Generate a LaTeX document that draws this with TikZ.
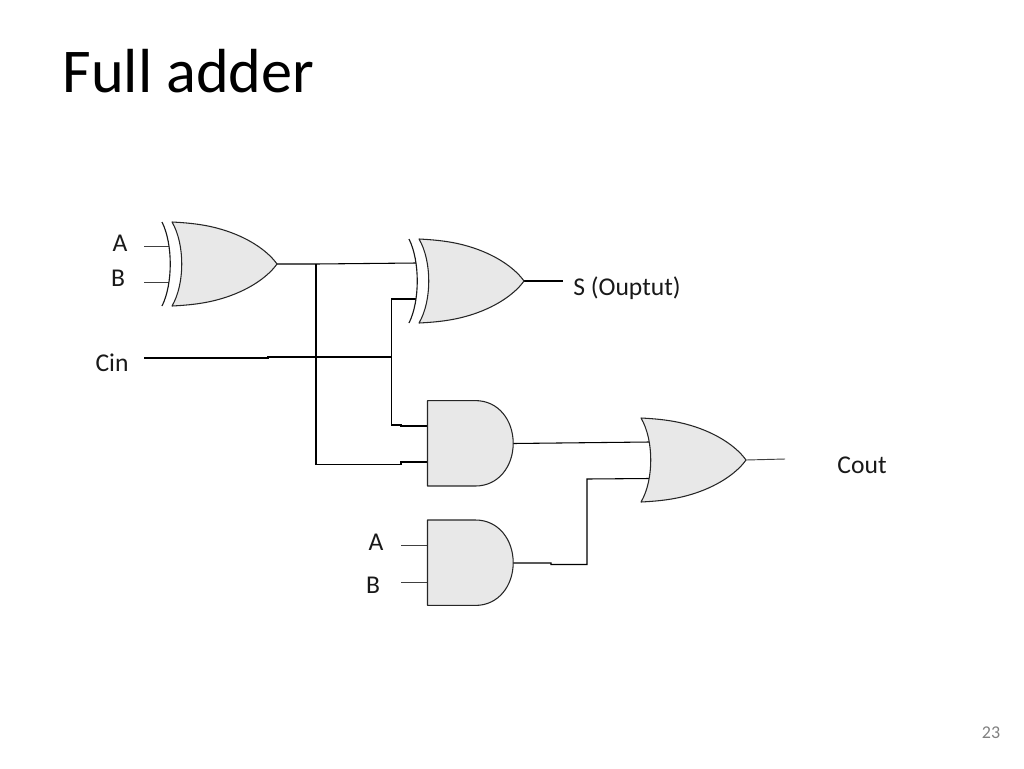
\documentclass[tikz,border=0pt]{standalone}
\usepackage{fontspec}
\setmainfont{Carlito}
\tikzset{
  x=0.75pt,y=-0.75pt,
  wire/.style={draw=black,line width=0.8pt,line join=miter},
  thinwire/.style={draw=black!75,line width=0.7pt},
  gatebody/.style={draw=black!85,fill=gategray,line width=0.8pt,line join=round},
  backarc/.style={draw=black!90,line width=0.85pt},
  lbl/.style={inner sep=0pt,font=\fontsize{19.2}{23}\selectfont,text=black!90},
  orgate/.pic={
    \path[gatebody] (0,-42) .. controls (20,-41) and (35,-39) .. (50,-34.5)
      .. controls (75,-27) and (95,-14) .. (105,0)
      .. controls (95,14) and (75,27) .. (50,34.5)
      .. controls (35,39) and (20,41) .. (0,42)
      .. controls (13,20) and (13,-20) .. (0,-42) -- cycle;
  },
  xorgate/.pic={
    \pic {orgate};
    \path[backarc] (-10,-42) .. controls (1,-20) and (1,20) .. (-10,42);
  },
  andgate/.pic={
    \path[gatebody] (0,-42.7) -- (48,-42.7)
      .. controls (71,-42.7) and (85.7,-23) .. (85.7,0)
      .. controls (85.7,23) and (71,42.7) .. (48,42.7)
      -- (0,42.7) -- cycle;
  }
}
\definecolor{gategray}{HTML}{E8E8E8}
\begin{document}
\begin{tikzpicture}
\useasboundingbox (0,0) rectangle (1024,768);
% pins and bends
\coordinate (a1s) at (144,246);  \coordinate (a1e) at (169,246);
\coordinate (b1s) at (144,282);  \coordinate (b1e) at (169,282);
\coordinate (x1out) at (277,264);
\coordinate (jsum) at (316,264);
\coordinate (x2ina) at (416,263);
\coordinate (x2inb) at (416,299);
\coordinate (x2out) at (524,281);
\coordinate (sout) at (563,281);
\coordinate (cin) at (144,358);
\coordinate (cinb) at (268,358);
\coordinate (cinc) at (268,357);
\coordinate (jcin) at (391.5,357);
\coordinate (ctop) at (391.5,299);
\coordinate (cbot) at (391.5,425);
\coordinate (c1) at (401,425);
\coordinate (c2) at (401,426);
\coordinate (and1a) at (427.5,426);
\coordinate (sbot) at (316,464.5);
\coordinate (s1) at (401,464.5);
\coordinate (s2) at (401,462);
\coordinate (and1b) at (427.5,462);
\coordinate (and1out) at (513,443.5);
\coordinate (orina) at (649,442);
\coordinate (and2out) at (513,563);
\coordinate (t1) at (551,563);
\coordinate (t2) at (551,564.5);
\coordinate (t3) at (587,564.5);
\coordinate (t4) at (587,479);
\coordinate (orinb) at (649,478.5);
\coordinate (orout) at (746,460);
\coordinate (coutw) at (785,459);
\coordinate (a2s) at (401,545); \coordinate (and2a) at (427.5,545);
\coordinate (b2s) at (401,582); \coordinate (and2b) at (427.5,582);
% wires
\draw[thinwire] (a1s) -- (a1e);
\draw[thinwire] (b1s) -- (b1e);
\draw[wire] (x1out) -- (jsum) -- (x2ina);
\draw[wire] (jsum) -- (sbot) -- (s1) -- (s2) -- (and1b);
\draw[wire] (cin) -- (cinb) -- (cinc) -- (jcin);
\draw[wire] (x2inb) -- (ctop) -- (cbot) -- (c1) -- (c2) -- (and1a);
\draw[wire] (x2out) -- (sout);
\draw[wire] (and1out) -- (orina);
\draw[wire] (and2out) -- (t1) -- (t2) -- (t3) -- (t4) -- (orinb);
\draw[thinwire] (orout) -- (coutw);
\draw[thinwire] (a2s) -- (and2a);
\draw[thinwire] (b2s) -- (and2b);
% gates
\pic at (172,264) {xorgate};
\pic at (419,281) {xorgate};
\pic at (641,460) {orgate};
\pic at (427.5,443.3) {andgate};
\pic at (427.5,562.7) {andgate};
% texts
\node[inner sep=0pt,font=\fontsize{46.7}{56}\selectfont,text=black] (title) at (188.5,71) {Full adder};
\node[lbl] (la1) at (120,243) {A};
\node[lbl] (lb1) at (118,278) {B};
\node[lbl] (lcin) at (112,362.5) {Cin};
\node[lbl] (la2) at (376,542) {A};
\node[lbl] (lb2) at (373,585) {B};
\node[lbl] (ls) at (627,288) {S (Ouptut)};
\node[lbl] (lcout) at (862,465) {Cout};
\node[inner sep=0pt,font=\fontsize{13.5}{16}\selectfont,text=black!50] (pg) at (991,733) {23};
\end{tikzpicture}
\end{document}
